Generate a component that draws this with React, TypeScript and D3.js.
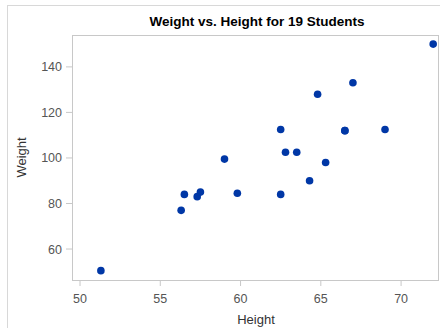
import React from "react";
import * as d3 from "d3";

// SASHELP.CLASS students
const heights = [69.0, 56.5, 65.3, 62.8, 63.5, 57.3, 59.8, 62.5, 62.5, 59.0, 51.3, 64.3, 56.3, 66.5, 72.0, 64.8, 67.0, 57.5, 66.5];
const weights = [112.5, 84.0, 98.0, 102.5, 102.5, 83.0, 84.5, 112.5, 84.0, 99.5, 50.5, 90.0, 77.0, 112.0, 150.0, 128.0, 133.0, 85.0, 112.0];
const xTicks = [50, 55, 60, 65, 70];
const yTicks = [60, 80, 100, 120, 140];

const W = 440;
const H = 328;
const plot = { left: 72, top: 35, right: 438, bottom: 280 };
const font = "Arial, 'Liberation Sans', sans-serif";

export default function App() {
  const x = d3.scaleLinear().domain([49.5, 72.3]).range([plot.left, plot.right]);
  const y = d3.scaleLinear().domain([46.4, 154]).range([plot.bottom, plot.top]);
  const pts = d3.zip(heights, weights);
  const frame = "#c8c8c8";

  return (
    <svg width={W} height={H} style={{ position: "fixed", left: 0, top: 0, background: "#fff" }}>
      {/* outer graph border */}
      <rect x={7.5} y={5.5} width={W} height={H} fill="none" stroke="#d8d8d8" />
      <text x={257} y={26} textAnchor="middle" fontFamily={font} fontWeight="bold" fontSize={13.5} fill="#000">
        Weight vs. Height for 19 Students
      </text>
      {/* wall */}
      <rect x={plot.left + 0.5} y={plot.top + 0.5} width={plot.right - plot.left} height={plot.bottom - plot.top} fill="#fff" stroke={frame} />
      {xTicks.map((t) => (
        <g key={"x" + t}>
          <line x1={x(t)} x2={x(t)} y1={plot.bottom + 0.5} y2={plot.bottom + 6} stroke={frame} />
          <text x={x(t)} y={302.5} textAnchor="middle" fontFamily={font} fontSize={12.5} fill="#555">{t}</text>
        </g>
      ))}
      {yTicks.map((t) => (
        <g key={"y" + t}>
          <line x1={plot.left - 6} x2={plot.left + 0.5} y1={y(t)} y2={y(t)} stroke={frame} />
          <text x={62} y={y(t) + 4.5} textAnchor="end" fontFamily={font} fontSize={12.5} fill="#555">{t}</text>
        </g>
      ))}
      <text x={256} y={324} textAnchor="middle" fontFamily={font} fontSize={13} fill="#333">Height</text>
      <text transform={`translate(26,${(plot.top + plot.bottom) / 2}) rotate(-90)`} textAnchor="middle" fontFamily={font} fontSize={13} fill="#333">
        Weight
      </text>
      {pts.map(([h, w], i) => (
        <circle key={i} cx={x(h)} cy={y(w)} r={3.8} fill="#0037a6" />
      ))}
    </svg>
  );
}
